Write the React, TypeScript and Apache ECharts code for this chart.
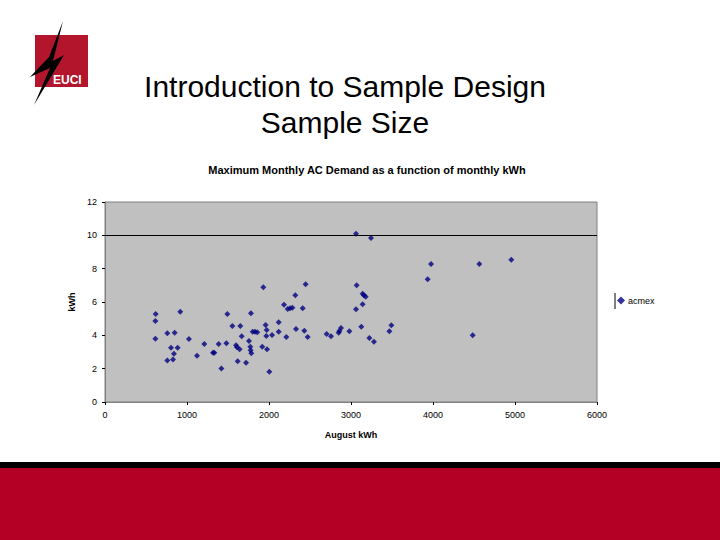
import React, { useEffect, useRef } from "react";
import * as echarts from "echarts";

const augustKWh = [
  618, 614, 614, 760, 850, 805, 886, 841, 760, 829, 918, 1024, 1122, 1211, 1317, 1333, 1386, 1419,
  1480, 1492, 1553, 1650, 1667, 1598, 1610, 1642, 1618, 1720, 1756, 1780, 1772, 1776, 1784, 1801,
  1829, 1857, 1931, 1918, 1959, 1972, 1967, 1976, 2004, 2037, 2118, 2118, 2211, 2183, 2228, 2256,
  2285, 2321, 2329, 2411, 2431, 2447, 2472, 2703, 2756, 2850, 2858, 2878, 2980, 3061, 3069, 3061,
  3126, 3142, 3158, 3179, 3142, 3224, 3244, 3280, 3468, 3492, 3935, 3976, 4565, 4955, 4484,
];
const acmax = [
  5.28, 4.86, 3.8, 4.12, 4.16, 3.25, 3.25, 2.89, 2.49, 2.55, 5.42, 3.78, 2.77, 3.48, 2.95, 2.95, 3.48, 2.01,
  3.52, 5.28, 4.56, 4.56, 3.94, 3.4, 3.28, 3.17, 2.45, 2.35, 3.66, 5.32, 3.31, 3.11, 2.93, 4.22,
  4.22, 4.18, 6.89, 3.31, 4.62, 4.32, 3.96, 3.16, 1.81, 4.02, 4.78, 4.22, 3.9, 5.83, 5.58, 5.62,
  5.66, 6.41, 4.38, 5.62, 4.28, 7.07, 3.9, 4.08, 3.94, 4.16, 4.26, 4.44, 4.24, 10.1, 7.01, 5.56,
  4.52, 6.49, 6.41, 6.31, 5.87, 3.84, 9.84, 3.62, 4.24, 4.6, 7.37, 8.28, 8.28, 8.54, 4.0,
];
const xTicks = [0, 1000, 2000, 3000, 4000, 5000, 6000];
const yTicks = [0, 2, 4, 6, 8, 10, 12];
const referenceLineValue = 10;

const slideTitle = ["Introduction to Sample Design", "Sample Size"];
const chartTitle = "Maximum Monthly AC Demand as a function of monthly kWh";
const xName = "August kWh";
const yName = "kWh";
const seriesName = "acmex";

export default function App() {
  const ref = useRef<HTMLDivElement>(null);
  useEffect(() => {
    if (!ref.current) return;
    const chart = echarts.init(ref.current, undefined, { renderer: "svg" });
    const font = "'Liberation Sans', Arial, sans-serif";
    const points = augustKWh.map((x, i) => [x, acmax[i]]);
    chart.setOption({
      animation: false,
      backgroundColor: "#ffffff",
      textStyle: { fontFamily: font },
      title: {
        text: chartTitle,
        left: 362,
        top: 159,
        textAlign: "center",
        textStyle: { fontSize: 11, fontWeight: "bold", color: "#000", fontFamily: font },
      },
      legend: {
        data: [seriesName],
        left: 612,
        top: 291,
        itemWidth: 8,
        itemHeight: 8,
        itemGap: 2,
        textStyle: { fontSize: 9, color: "#000", fontFamily: font, padding: [0, 0, 0, -2] },
      },
      grid: { left: 105, right: 123, top: 202, bottom: 138, backgroundColor: "#c0c0c0", show: true, borderColor: "#808080", borderWidth: 1 },
      xAxis: {
        type: "value",
        min: xTicks[0],
        max: xTicks[xTicks.length - 1],
        interval: 1000,
        name: xName,
        nameLocation: "middle",
        nameGap: 28,
        nameTextStyle: { fontSize: 9, fontWeight: "bold", color: "#000", fontFamily: font },
        axisLine: { show: true, lineStyle: { color: "#808080" } },
        axisTick: { show: true, length: 3, lineStyle: { color: "#000" } },
        axisLabel: { fontSize: 9, color: "#000", margin: 8, fontFamily: font, formatter: (v: number) => String(v) },
        splitLine: { show: false },
      },
      yAxis: {
        type: "value",
        min: yTicks[0],
        max: yTicks[yTicks.length - 1],
        interval: 2,
        name: yName,
        nameLocation: "middle",
        nameGap: 27,
        nameRotate: 90,
        nameTextStyle: { fontSize: 9, fontWeight: "bold", color: "#000", fontFamily: font },
        axisLine: { show: true, lineStyle: { color: "#808080" } },
        axisTick: { show: true, length: 3, lineStyle: { color: "#000" } },
        axisLabel: { fontSize: 9, color: "#000", margin: 8, fontFamily: font, formatter: (v: number) => String(v) },
        splitLine: { show: false },
      },
      series: [
        {
          name: seriesName,
          type: "scatter",
          symbol: "diamond",
          symbolSize: 6,
          itemStyle: { color: "#000080" },
          data: points,
          markLine: {
            silent: true,
            symbol: "none",
            label: { show: false },
            lineStyle: { color: "#000", width: 1.2, type: "solid" },
            data: [{ yAxis: referenceLineValue }],
          },
        },
      ],
      graphic: [
        { type: "rect", shape: { x: 35, y: 35, width: 53, height: 52 }, style: { fill: "#b3162c" } },
        {
          type: "text",
          x: 53,
          y: 74,
          style: { text: "EUCI", fill: "#fff", fontSize: 12, fontWeight: "bold", fontFamily: font },
        },
        {
          type: "polygon",
          shape: {
            points: [
              [63, 21], [49, 57], [30, 77], [50, 68], [34, 105], [64, 55], [53, 61], [63, 21],
            ],
          },
          style: { fill: "#000" },
        },
        {
          type: "text",
          x: 345,
          y: 71,
          style: { text: slideTitle[0], fill: "#000", fontSize: 30, fontFamily: font, align: "center" },
        },
        {
          type: "text",
          x: 345,
          y: 107,
          style: { text: slideTitle[1], fill: "#000", fontSize: 30, fontFamily: font, align: "center" },
        },
        { type: "line", shape: { x1: 615, y1: 293, x2: 615, y2: 309 }, style: { stroke: "#000", lineWidth: 1 } },
        { type: "rect", shape: { x: 0, y: 462, width: 720, height: 6 }, style: { fill: "#000" } },
        { type: "rect", shape: { x: 0, y: 468, width: 720, height: 72 }, style: { fill: "#b30024" } },
      ],
    });
    return () => chart.dispose();
  }, []);
  return <div ref={ref} style={{ position: "fixed", left: 0, top: 0, width: 720, height: 540 }} />;
}
